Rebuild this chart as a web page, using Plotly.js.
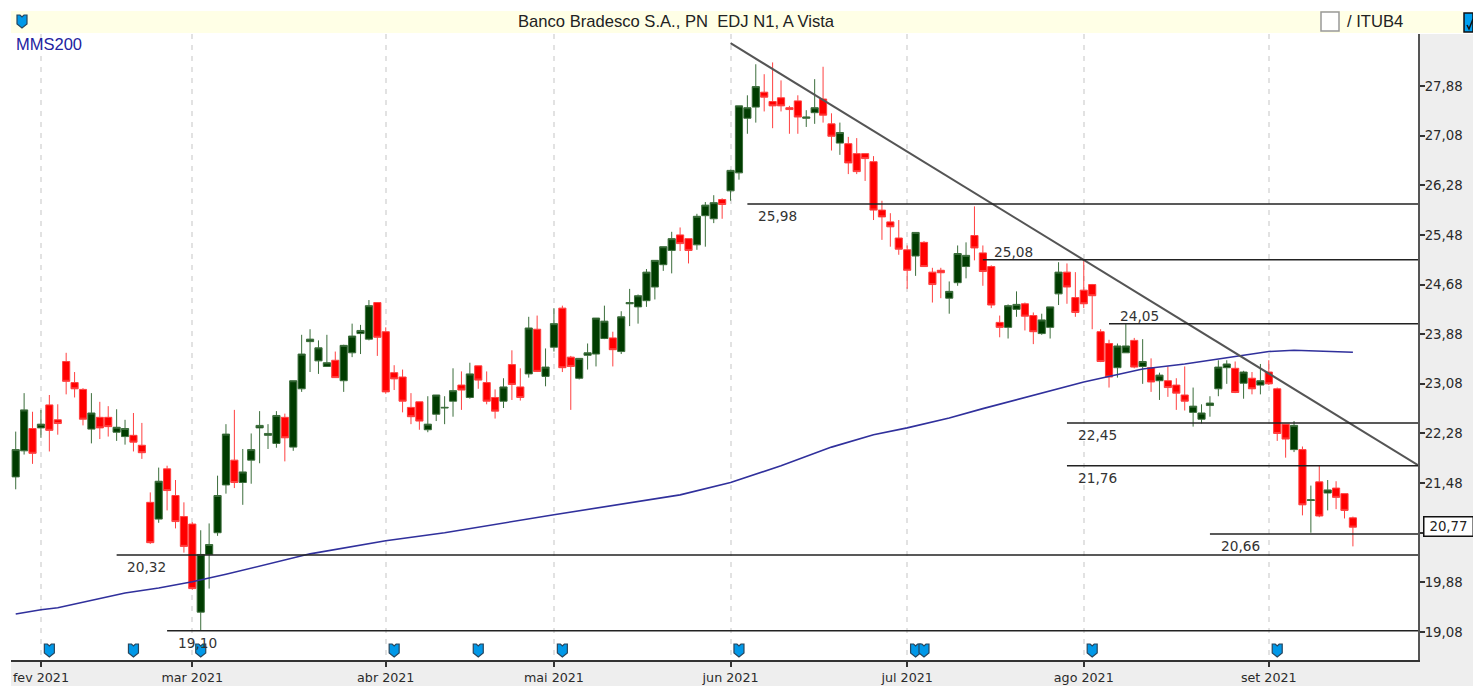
<!DOCTYPE html>
<html><head><meta charset="utf-8">
<script src="https://cdn.plot.ly/plotly-3.0.1.min.js"></script>
<style>html,body{margin:0;padding:0;background:#fff}#c{width:1473px;height:686px}</style>
</head><body><div id="c"></div>
<script>
const openP=[21.58,22.00,22.36,22.37,22.74,22.50,23.44,23.10,22.99,22.35,
22.54,22.54,22.30,22.23,22.25,22.09,21.17,20.90,21.71,21.28,
20.94,20.82,19.40,20.33,20.68,21.45,21.85,21.49,21.85,22.37,
22.25,22.12,22.54,22.06,23.00,23.76,23.45,23.36,23.46,23.13,
23.58,23.89,23.80,24.39,23.92,23.26,23.19,22.70,22.79,22.34,
22.59,22.69,22.80,23.06,22.86,23.37,23.10,22.86,22.80,23.39,
23.03,23.24,23.96,23.20,23.67,24.30,23.51,23.17,23.54,23.56,
23.81,23.82,23.60,24.37,24.32,24.42,24.64,25.00,25.23,25.48,
25.42,25.32,25.79,25.74,26.05,26.19,26.48,27.36,27.54,27.78,
27.63,27.69,27.53,27.64,27.36,27.45,27.67,27.27,26.96,26.95,
26.79,26.79,26.66,25.88,25.69,25.43,25.24,25.14,25.36,24.88,
24.91,24.46,24.71,24.97,25.47,25.19,24.97,24.07,23.99,24.28,
24.37,24.18,23.89,23.99,24.53,24.88,24.47,24.59,24.68,23.92,
23.73,23.34,23.58,23.78,23.36,23.34,23.13,23.13,23.06,22.90,
22.62,22.51,22.73,23.00,23.34,23.33,23.09,23.17,23.06,23.27,
23.00,22.43,22.02,22.02,21.20,21.50,21.32,21.40,21.31,20.92];
const closeP=[22.02,22.66,21.96,22.43,22.33,22.44,23.12,23.00,22.51,22.61,
22.37,22.39,22.38,22.36,22.14,21.97,20.52,21.51,21.36,20.86,
20.46,19.78,20.33,20.49,21.28,22.27,21.49,21.66,22.02,22.41,
22.28,22.57,22.21,23.13,23.56,23.80,23.66,23.42,23.18,23.70,
23.85,23.94,24.34,23.83,22.95,23.16,22.80,22.55,22.48,22.43,
22.90,22.70,22.97,22.98,23.24,23.14,22.80,22.64,23.03,23.07,
22.86,23.98,23.28,23.35,24.05,23.34,23.36,23.49,23.58,24.14,
24.09,23.63,24.16,24.39,24.50,24.88,25.07,25.29,25.42,25.34,
25.23,25.78,25.96,26.00,25.97,26.52,27.56,27.53,27.87,27.70,
27.56,27.56,27.50,27.38,27.38,27.53,27.41,27.07,27.13,26.64,
26.50,26.71,25.88,25.77,25.61,25.25,24.91,25.52,24.97,24.68,
24.87,24.57,25.18,25.15,25.27,24.89,24.35,23.99,24.34,24.36,
24.17,23.92,24.11,24.32,24.88,24.64,24.23,24.37,24.50,23.44,
23.19,23.69,23.69,23.35,23.44,23.11,23.22,23.02,22.93,22.80,
22.72,22.61,22.77,23.35,23.40,22.94,23.27,23.00,23.13,23.08,
22.28,22.19,22.41,21.13,21.21,20.95,21.37,21.25,21.04,20.77];
const highP=[22.31,22.93,22.63,22.66,22.90,22.75,23.58,23.27,23.01,22.93,
22.79,22.72,22.67,22.50,22.61,22.45,21.33,21.73,21.76,21.53,
21.17,20.85,20.72,20.83,21.60,22.43,22.66,22.03,22.28,22.64,
22.43,22.64,22.60,23.13,23.87,23.96,23.78,23.87,23.60,23.71,
24.05,24.03,24.43,24.39,23.99,23.38,23.31,22.93,22.79,22.88,
22.90,22.88,23.33,23.28,23.42,23.37,23.28,22.99,23.17,23.62,
23.33,24.16,24.18,23.65,24.30,24.34,23.53,23.49,23.73,24.14,
24.34,23.92,24.25,24.61,24.52,24.93,25.07,25.29,25.53,25.60,
25.42,25.82,26.01,26.12,26.07,26.53,27.56,27.73,28.23,28.07,
28.26,27.97,27.56,27.73,27.49,27.99,28.19,27.44,27.29,27.06,
27.04,26.79,26.75,26.03,25.83,25.72,25.31,25.52,25.38,24.95,
24.95,24.73,25.31,25.36,25.94,25.31,24.99,24.18,24.36,24.57,
24.39,24.23,24.21,24.32,25.04,25.02,24.88,25.08,24.69,23.96,
23.79,23.73,24.05,23.82,23.80,23.49,23.26,23.36,23.17,23.36,
23.02,22.75,22.88,23.46,23.46,23.44,23.29,23.27,23.40,23.46,
23.02,22.43,22.48,22.07,21.44,21.77,21.53,21.51,21.31,20.94];
const lowP=[21.38,21.94,21.79,22.21,21.99,22.26,22.91,22.86,22.41,22.12,
22.19,22.23,22.16,22.10,21.99,21.87,20.50,20.84,21.04,20.75,
20.36,19.76,19.10,19.78,20.63,21.31,21.40,21.13,21.47,21.80,
22.03,22.05,21.83,22.00,22.95,23.27,23.24,23.36,23.18,22.95,
23.51,23.56,23.78,23.53,22.92,22.98,22.62,22.43,22.34,22.30,
22.48,22.43,22.55,22.66,22.84,23.00,22.75,22.52,22.69,22.82,
22.81,23.18,23.27,23.04,23.60,23.27,22.66,23.15,23.31,23.36,
23.80,23.36,23.56,24.01,24.05,24.32,24.44,24.90,24.86,25.22,
25.02,25.24,25.29,25.67,25.74,26.03,26.37,27.11,27.29,27.47,
27.20,27.47,27.11,27.11,27.22,27.27,27.29,26.84,26.77,26.46,
26.46,26.35,25.72,25.40,25.29,25.16,24.61,24.82,24.97,24.39,
24.46,24.21,24.66,24.78,25.07,24.66,24.30,23.83,23.81,24.16,
23.94,23.72,23.87,23.81,24.35,24.37,24.16,24.30,23.96,23.43,
23.02,23.18,23.58,23.33,23.08,22.95,22.82,22.87,22.66,22.65,
22.39,22.44,22.55,22.88,23.08,22.93,22.84,22.91,22.91,23.06,
22.16,21.89,21.98,20.96,20.68,20.93,21.04,21.06,20.91,20.46];

const mmsIndex=[0,3,5,13,17,21,25,35,44,51,64,79,85,91,97,102,106,111,115,127,134,139,146,149,152,159];
const mmsValues=[19.37,19.44,19.47,19.71,19.79,19.89,20.01,20.34,20.55,20.68,20.97,21.29,21.49,21.76,22.06,22.26,22.37,22.53,22.68,23.11,23.32,23.40,23.54,23.60,23.62,23.59];

const trendIndex=[85,166.74];
const trendValues=[28.57,21.77];

const levelValues=[25.98,25.08,24.05,22.45,21.76,20.66,20.32,19.10];
const levelStart=[87,115,130,125,125,142,12,18];
const levelText=["25,98","25,08","24,05","22,45","21,76","20,66","20,32","19,10"];
const levelAbove=[false,true,true,false,false,false,false,false];

const flagIndex=[4,14,22,45,55,65,86,107,108,128,150];
const flagLevel=18.79;

const monthIndex=[3,21,44,64,85,106,127,149];
const monthLabels=["fev 2021","mar 2021","abr 2021","mai 2021","jun 2021","jul 2021","ago 2021","set 2021"];
const priceTicks=[19.08,19.88,20.68,21.48,22.28,23.08,23.88,24.68,25.48,26.28,27.08,27.88];
const priceTickText=["19,08","19,88","","21,48","22,28","23,08","23,88","24,68","25,48","26,28","27,08","27,88"];
const lastPrice=20.76, lastText="20,77";

const W=1473,H=686,L=11,R=1418,T=34,B=660;
const px=v=>(v-L)/(R-L), py=v=>(B-v)/(B-T);
const idx=openP.map((_,i)=>i);
const lvlX=[],lvlY=[];
levelValues.forEach((v,i)=>{lvlX.push(levelStart[i],166.74,null);lvlY.push(v,v,null);});

const traces=[
 {type:'candlestick',x:idx,open:openP,high:highP,low:lowP,close:closeP,whiskerwidth:0,hoverinfo:'skip',showlegend:false,
  increasing:{line:{color:'#3c6e3c',width:1},fillcolor:'#003c00'},
  decreasing:{line:{color:'#ff4040',width:1},fillcolor:'#ff0000'}},
 {type:'scatter',mode:'lines',x:mmsIndex,y:mmsValues,line:{color:'#30309c',width:1.6},hoverinfo:'skip',showlegend:false},
 {type:'scatter',mode:'lines',x:trendIndex,y:trendValues,line:{color:'#555555',width:2},hoverinfo:'skip',showlegend:false},
 {type:'scatter',mode:'lines',x:lvlX,y:lvlY,line:{color:'#222222',width:1.5},hoverinfo:'skip',showlegend:false}
];

const txtFont={family:'DejaVu Sans',size:13.7,color:'#333333'};
const annotations=levelValues.map((v,i)=>({x:levelStart[i]+3.6,y:v,xref:'x',yref:'y',text:levelText[i],showarrow:false,
  yshift:levelAbove[i]?8:-12,font:txtFont,xanchor:'center',yanchor:'middle'}));
annotations.push(
 {x:px(676),y:py(21),xref:'paper',yref:'paper',text:'Banco Bradesco S.A., PN\u00a0\u00a0EDJ N1, A Vista',showarrow:false,font:{family:'Liberation Sans',size:16.6,color:'#222'},xanchor:'center',yanchor:'middle'},
 {x:px(1345),y:py(21),xref:'paper',yref:'paper',text:'/ ITUB4',showarrow:false,font:{family:'Liberation Sans',size:16.6,color:'#222'},xanchor:'left',yanchor:'middle'},
 {x:px(16),y:py(44),xref:'paper',yref:'paper',text:'MMS200',showarrow:false,font:{family:'Liberation Sans',size:16.5,color:'#2222a0'},xanchor:'left',yanchor:'middle',xshift:-2},
 {x:px(1448),y:lastPrice,xref:'paper',yref:'y',text:lastText,showarrow:false,yshift:1,font:{family:'DejaVu Sans',size:13.3,color:'#222'},bgcolor:'#ffffff',bordercolor:'#111111',borderwidth:1.5,borderpad:1,width:46,height:16,xanchor:'center',yanchor:'middle'}
);

const rect=(x0,y0,x1,y1,fill,line,w)=>({type:'rect',xref:'paper',yref:'paper',x0:px(x0),x1:px(x1),y0:py(y1),y1:py(y0),fillcolor:fill,line:{color:line||fill,width:w||0},layer:'below'});
const shieldPath='M -5 6 L -2 6 L 0 4 L 2 6 L 5 6 L 5 -3 L 0 -7 L -5 -3 Z';
const shieldStyle={type:'path',path:shieldPath,xsizemode:'pixel',ysizemode:'pixel',fillcolor:'#0098e8',line:{color:'#27465e',width:1.2},layer:'above'};
const shapes=[
 rect(R,T,W,H,'#eeeeee'),
 rect(L,B,W,H,'#eeeeee'),
 rect(L,11,1463,33,'#ffffe6'),
 rect(1321,12,1339,31,'#ffffff','#999999',1.5),
 rect(1464,13,1473,32,'#00a0f0','#111111',1.5),
 {type:'path',xref:'paper',yref:'paper',layer:'above',path:`M ${px(1467)} ${py(25)} L ${px(1469)} ${py(29)} L ${px(1473)} ${py(19)}`,line:{color:'#111111',width:1.5}},
 ...flagIndex.map(i=>Object.assign({},shieldStyle,{xref:'x',yref:'y',xanchor:i,yanchor:flagLevel})),
 Object.assign({},shieldStyle,{xref:'paper',yref:'paper',xanchor:px(22),yanchor:py(21)})
];

const layout={
 width:W,height:H,margin:{l:L,r:W-R,t:T,b:H-B,pad:0},paper_bgcolor:'#ffffff',plot_bgcolor:'#ffffff',showlegend:false,
 boxgap:0.15,boxgroupgap:0,
 xaxis:{type:'linear',range:[-0.56,166.74],rangeslider:{visible:false},tickmode:'array',tickvals:monthIndex,ticktext:monthLabels,
  showgrid:true,gridcolor:'#e2e2e2',gridwidth:2,griddash:'5px,6px',zeroline:false,showline:true,linecolor:'#333333',linewidth:2,
  ticks:'outside',ticklen:5,tickwidth:2,tickcolor:'#333333',tickfont:{family:'DejaVu Sans',size:12.7,color:'#2a2a2a'}},
 yaxis:{side:'right',range:[18.629,28.718],tickmode:'array',tickvals:priceTicks,ticktext:priceTickText,showgrid:false,zeroline:false,
  showline:true,linecolor:'#555555',linewidth:2,ticks:'outside',ticklen:5,tickwidth:2,tickcolor:'#333333',ticklabelstandoff:-3,
  tickfont:{family:'DejaVu Sans',size:13.3,color:'#2a2a2a'}},
 annotations,shapes
};
Plotly.newPlot('c',traces,layout,{displayModeBar:false,staticPlot:true});
</script></body></html>
